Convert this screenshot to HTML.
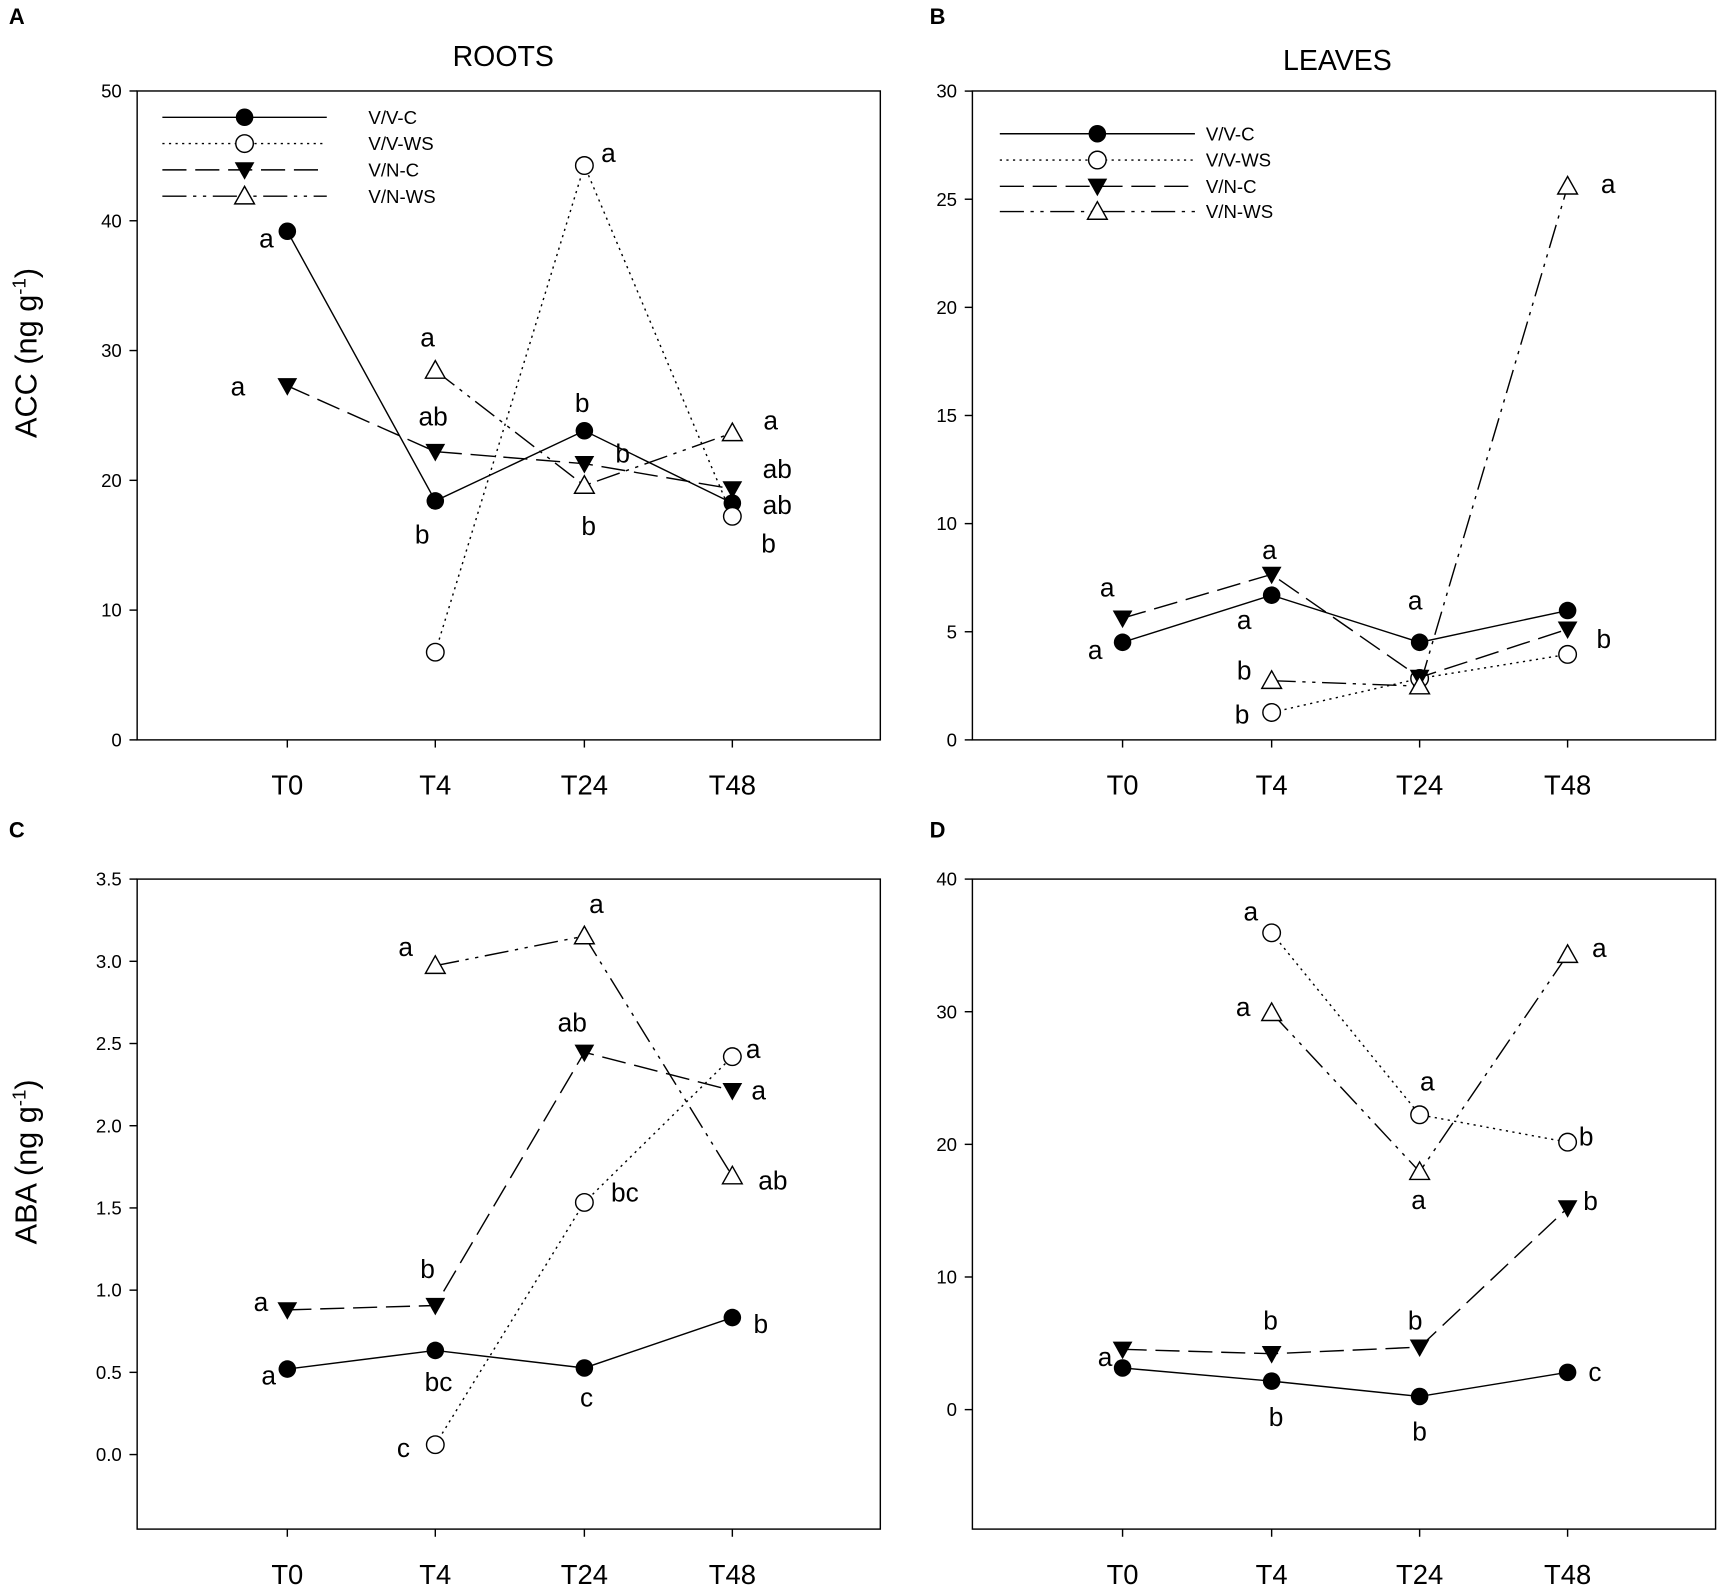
<!DOCTYPE html>
<html><head><meta charset="utf-8"><style>
html,body{margin:0;padding:0;background:#fff}
svg{display:block}
text{font-family:"Liberation Sans",Arial,sans-serif;fill:#000}
</style></head><body>
<svg id="s" width="1719" height="1585" viewBox="0 0 1568 1446" xmlns="http://www.w3.org/2000/svg"></svg>
<script>
const s=document.getElementById('s');let h='';
const dash={c:'',ws:'2,4',nc:'22,8',nws:'22,6,3,6,3,6'};
function ln(pts,st){h+=`<polyline points="${pts.map(p=>p.join(',')).join(' ')}" fill="none" stroke="#000" stroke-width="1.3" ${dash[st]?`stroke-dasharray="${dash[st]}"`:''}/>`;}
function mk(x,y,st){
 if(st=='c')h+=`<circle cx="${x}" cy="${y}" r="8" fill="#000"/>`;
 else if(st=='ws')h+=`<circle cx="${x}" cy="${y}" r="8" fill="#fff" stroke="#000" stroke-width="1.3"/>`;
 else if(st=='nc')h+=`<polygon points="${x-9},${y-7} ${x+9},${y-7} ${x},${y+9}" fill="#000"/>`;
 else h+=`<polygon points="${x-9},${y+7} ${x+9},${y+7} ${x},${y-9}" fill="#fff" stroke="#000" stroke-width="1.3"/>`;
}
function ser(pts,st){ln(pts,st);pts.forEach(p=>mk(p[0],p[1],st));}
function t(x,y,str,sz,anc,extra){h+=`<text x="${x}" y="${y}" font-size="${sz}" text-anchor="${anc||'middle'}" ${extra||''}>${str}</text>`;}
function panel(x0,x1,y0,y1,ticks,xs){
 h+=`<rect x="${x0}" y="${y0}" width="${x1-x0}" height="${y1-y0}" fill="none" stroke="#000" stroke-width="1.3"/>`;
 ticks.forEach(([y,l])=>{h+=`<line x1="${x0-7}" y1="${y}" x2="${x0}" y2="${y}" stroke="#000" stroke-width="1.3"/>`;t(x0-14,y+6,l,17,'end');});
 ['T0','T4','T24','T48'].forEach((l,i)=>{h+=`<line x1="${xs[i]}" y1="${y1}" x2="${xs[i]}" y2="${y1+7}" stroke="#000" stroke-width="1.3"/>`;t(xs[i],y1+50,l,25);});
}
function labs(a){a.forEach(([x,y,l])=>t(x,y+8,l,24));}
const XA=[262,397,533,668],XB=[1024,1160,1295,1430];
panel(125,803,83,675,[0,10,20,30,40,50].map(v=>[675-v*11.84,v]),XA);
ser([[262,211],[397,457],[533,393],[668,459]],'c');
ser([[397,595],[533,151],[668,471]],'ws');
ser([[262,352],[397,412],[533,423],[668,446]],'nc');
ser([[397,338],[533,443],[668,395]],'nws');
labs([[243,218,'a'],[217,353,'a'],[390,308,'a'],[395,380,'ab'],[385,488,'b'],[531,368,'b'],[568,414,'b'],[537,480,'b'],[555,140,'a'],[703,384,'a'],[709,428,'ab'],[709,461,'ab'],[701,496,'b']]);
panel(887,1565,83,675,[0,5,10,15,20,25,30].map(v=>[675-v*19.73,v]),XB);
ser([[1024,586],[1160,543],[1295,586],[1430,557]],'c');
ser([[1160,650],[1295,619],[1430,597]],'ws');
ser([[1024,564],[1160,524],[1295,618],[1430,574]],'nc');
ser([[1160,621],[1295,626],[1430,170]],'nws');
labs([[1010,536,'a'],[999,593,'a'],[1158,502,'a'],[1135,566,'a'],[1291,548,'a'],[1135,612,'b'],[1133,652,'b'],[1463,583,'b'],[1467,168,'a']]);
panel(125,803,802,1395,[0,0.5,1,1.5,2,2.5,3,3.5].map(v=>[1327-v*150,v.toFixed(1)]),XA);
ser([[262,1249],[397,1232],[533,1248],[668,1202]],'c');
ser([[397,1318],[533,1097],[668,964]],'ws');
ser([[262,1195],[397,1191],[533,960],[668,995]],'nc');
ser([[397,881],[533,854],[668,1073]],'nws');
labs([[238,1188,'a'],[245,1255,'a'],[370,864,'a'],[390,1158,'b'],[400,1261,'bc'],[368,1321,'c'],[544,825,'a'],[522,933,'ab'],[570,1088,'bc'],[535,1275,'c'],[687,957,'a'],[692,995,'a'],[705,1077,'ab'],[694,1208,'b']]);
panel(887,1565,802,1395,[0,10,20,30,40].map(v=>[1286-v*12.1,v]),XB);
ser([[1024,1248],[1160,1260],[1295,1274],[1430,1252]],'c');
ser([[1160,851],[1295,1017],[1430,1042]],'ws');
ser([[1024,1231],[1160,1235],[1295,1229],[1430,1102]],'nc');
ser([[1160,924],[1295,1069],[1430,871]],'nws');
labs([[1008,1238,'a'],[1141,832,'a'],[1134,919,'a'],[1159,1205,'b'],[1164,1293,'b'],[1302,987,'a'],[1294,1095,'a'],[1291,1205,'b'],[1295,1306,'b'],[1459,865,'a'],[1447,1037,'b'],[1451,1096,'b'],[1455,1252,'c']]);
function leg(x0,x1,tx,ys){const st=['c','ws','nc','nws'],nm=['V/V-C','V/V-WS','V/N-C','V/N-WS'];
 ys.forEach((y,i)=>{h+=`<line x1="${x0}" y1="${y}" x2="${x1}" y2="${y}" stroke="#000" stroke-width="1.3" ${dash[st[i]]?`stroke-dasharray="${dash[st[i]]}"`:''}/>`;mk((x0+x1)/2,y,st[i]);t(tx,y+6,nm[i],17,'start');});}
leg(148,298,336,[107,131,155,179]);
leg(912,1090,1100,[122,146,170,193]);
t(459,60,'ROOTS',26);t(1220,64,'LEAVES',26);
t(8,22,'A',20,'start','font-weight="bold"');t(848,22,'B',20,'start','font-weight="bold"');
t(8,764,'C',20,'start','font-weight="bold"');t(848,764,'D',20,'start','font-weight="bold"');
h+=`<text transform="translate(33,322) rotate(-90)" font-size="28" text-anchor="middle">ACC (ng g<tspan dy="-10" font-size="17">-1</tspan><tspan dy="10">)</tspan></text>`;
h+=`<text transform="translate(33,1060) rotate(-90)" font-size="28" text-anchor="middle">ABA (ng g<tspan dy="-10" font-size="17">-1</tspan><tspan dy="10">)</tspan></text>`;
s.innerHTML=h;
</script>
</body></html>
